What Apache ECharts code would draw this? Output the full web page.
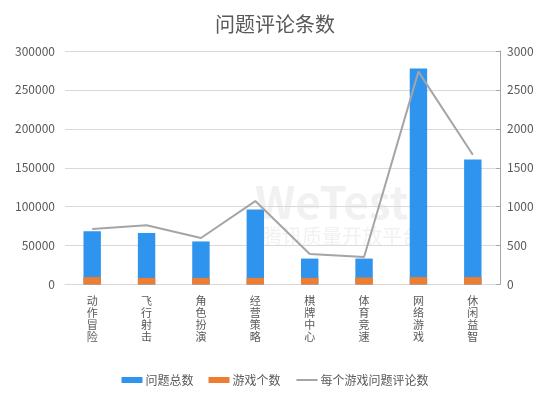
<!DOCTYPE html>
<html>
<head>
<meta charset="utf-8">
<script src="https://cdn.jsdelivr.net/npm/echarts@6/dist/echarts.min.js"></script>
<style>html,body{margin:0;padding:0;background:#fff;}#c{width:550px;height:398px;}</style>
</head>
<body>
<div id="c"></div>
<script>
const categories = ['动作冒险','飞行射击','角色扮演','经营策略','棋牌中心','体育竞速','网络游戏','休闲益智'];
const totalIssues = [68500, 66200, 55300, 96500, 33300, 33300, 277500, 160500];
const gameCount = [9500, 8500, 8500, 8500, 8500, 9000, 9500, 9500];
const perGame = [713, 760, 598, 1072, 392, 354, 2735, 1667];
const leftTicks = [0, 300000, 50000];
const rightTicks = [0, 3000, 500];

const chart = echarts.init(document.getElementById('c'), null, {renderer: 'canvas'});
const font = '"Microsoft YaHei","Noto Sans CJK SC","Noto Sans",sans-serif';
chart.setOption({
  animation: false,
  textStyle: {fontFamily: font},
  title: {
    text: '问题评论条数', left: 'center', top: 9,
    textStyle: {fontSize: 20, fontWeight: 'normal', color: '#595959', fontFamily: font}
  },
  graphic: [
    {type: 'text', left: 255, top: 180, z: -1, style: {text: 'WeTest', fontSize: 44, fontWeight: 'bold', fill: 'rgba(210,210,210,0.3)', fontFamily: font}},
    {type: 'text', left: 262, top: 226, z: -1, style: {text: '腾讯质量开放平台', fontSize: 20, fill: 'rgba(210,210,210,0.3)', fontFamily: font}}
  ],
  legend: {
    bottom: 7, left: 'center', itemGap: 15, itemWidth: 21, itemHeight: 6,
    textStyle: {color: '#595959', fontSize: 12, fontFamily: font, padding: [0, 0, 0, -2]},
    data: [
      {name: '问题总数', icon: 'rect'},
      {name: '游戏个数', icon: 'rect'},
      {name: '每个游戏问题评论数', itemStyle: {opacity: 0}}
    ]
  },
  grid: {left: 65, right: 50, top: 51, bottom: 113.5},
  xAxis: {
    type: 'category', data: categories,
    axisLine: {lineStyle: {color: '#d9d9d9'}},
    axisTick: {show: false},
    axisLabel: {
      color: '#595959', fontSize: 11, lineHeight: 12, margin: 10, interval: 0,
      formatter: v => v.split('').join('\n')
    }
  },
  yAxis: [
    {
      type: 'value', min: leftTicks[0], max: leftTicks[1], interval: leftTicks[2],
      axisLine: {show: false}, axisTick: {show: false},
      axisLabel: {color: '#595959', fontSize: 12, margin: 10, formatter: v => String(v)},
      splitLine: {lineStyle: {color: '#d9d9d9'}}
    },
    {
      type: 'value', min: rightTicks[0], max: rightTicks[1], interval: rightTicks[2],
      axisLine: {show: true, lineStyle: {color: '#a6a6a6'}},
      axisTick: {show: true, length: 4, inside: true, lineStyle: {color: '#a6a6a6'}},
      axisLabel: {color: '#595959', fontSize: 12, margin: 7, formatter: v => String(v)},
      splitLine: {show: false}
    }
  ],
  series: [
    {
      name: '问题总数', type: 'bar', data: totalIssues, barWidth: '32%', barGap: '-100%',
      itemStyle: {color: '#2e94ee'}
    },
    {
      name: '游戏个数', type: 'bar', data: gameCount, barWidth: '32%', barGap: '-100%',
      itemStyle: {color: '#ed7d31'}
    },
    {
      name: '每个游戏问题评论数', type: 'line', yAxisIndex: 1, data: perGame,
      symbol: 'none', lineStyle: {color: '#a5a5a5', width: 2}, itemStyle: {color: '#a5a5a5'}
    }
  ]
});
</script>
</body>
</html>
